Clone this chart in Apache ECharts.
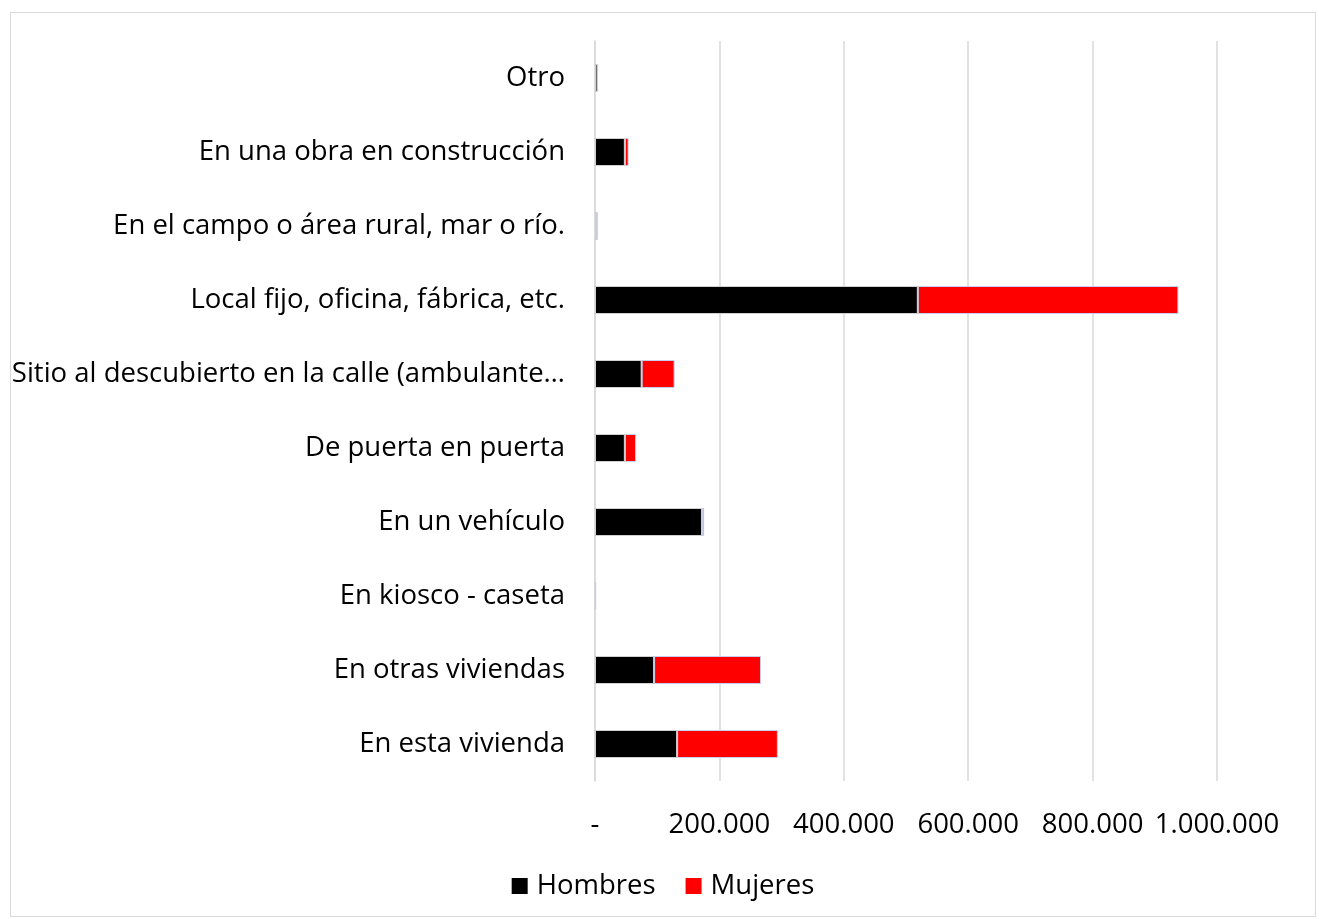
<!DOCTYPE html>
<html>
<head>
<meta charset="utf-8">
<script src="https://cdn.jsdelivr.net/npm/echarts@6/dist/echarts.min.js"></script>
<style>
  html, body { margin: 0; padding: 0; background: #fff; }
  #chart { position: absolute; left: 10px; top: 12px; width: 1306px; height: 905px; border: 1px solid #d9d9d9; box-sizing: border-box; }
</style>
</head>
<body>
<div id="chart"></div>
<script>
// categories bottom to top
var categories = [
  "En esta vivienda",
  "En otras viviendas",
  "En kiosco - caseta",
  "En un vehículo",
  "De puerta en puerta",
  "Sitio al descubierto en la calle (ambulante…",
  "Local fijo, oficina, fábrica, etc.",
  "En el campo o área rural, mar o río.",
  "En una obra en construcción",
  "Otro"
];
var hombres = [132000, 95000, 300, 172000, 48000, 75000, 519000, 3000, 48000, 4000];
var mujeres = [162000, 172000, 1500, 3500, 18000, 53000, 419000, 1000, 6000, 300];
var xTicks = [0, 200000, 400000, 600000, 800000, 1000000];

var chart = echarts.init(document.getElementById("chart"));
var font = "'Open Sans', 'Noto Sans', sans-serif";

function fmt(v) {
  if (v === 0) return "-";
  return String(v).replace(/\B(?=(\d{3})+(?!\d))/g, ".");
}

chart.setOption({
  animation: false,
  textStyle: { fontFamily: font },
  grid: { left: 584, right: 98, top: 28, height: 740, outerBoundsMode: "none", containLabel: false },
  legend: {
    bottom: 11,
    left: "center",
    itemWidth: 16,
    itemHeight: 16,
    itemGap: 30,
    icon: "rect",
    itemStyle: { borderWidth: 0 },
    textStyle: { fontSize: 27.5, color: "#000", fontFamily: font, padding: [0, 0, 0, 4] },
    data: ["Hombres", "Mujeres"]
  },
  xAxis: {
    type: "value",
    min: xTicks[0],
    max: xTicks[xTicks.length - 1],
    interval: 200000,
    axisLine: { show: false },
    axisTick: { show: false },
    splitLine: { lineStyle: { color: "#d9d9d9", width: 1.5 } },
    axisLabel: {
      margin: 30,
      fontSize: 27.5,
      color: "#000",
      formatter: fmt
    }
  },
  yAxis: {
    type: "category",
    data: categories,
    axisLine: { show: true, lineStyle: { color: "#d9d9d9", width: 1.5 } },
    axisTick: { show: false },
    axisLabel: { fontSize: 27.5, color: "#000", margin: 30 }
  },
  series: [
    {
      name: "Hombres",
      type: "bar",
      stack: "total",
      barWidth: 28,
      data: hombres,
      itemStyle: { color: "#000000", borderColor: "#d0d0d0", borderWidth: 1 }
    },
    {
      name: "Mujeres",
      type: "bar",
      stack: "total",
      barWidth: 28,
      data: mujeres,
      itemStyle: { color: "#ff0000", borderColor: "#c5d0ec", borderWidth: 1 }
    }
  ]
});
</script>
</body>
</html>
